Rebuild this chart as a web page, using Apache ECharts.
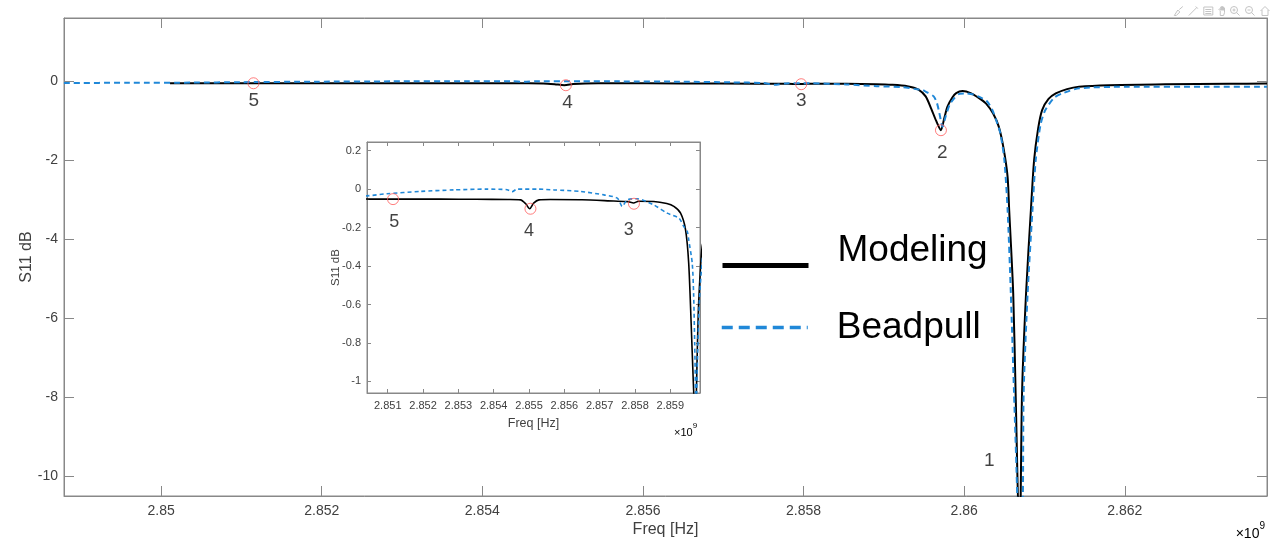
<!DOCTYPE html>
<html><head><meta charset="utf-8">
<script src="https://cdn.jsdelivr.net/npm/echarts@6/dist/echarts.min.js"></script>
<style>html,body{margin:0;padding:0;background:#fff}#c{width:1276px;height:541px}</style>
</head><body><div id="c"></div>
<script>
// ---- data (frequency in GHz, S11 in dB) ----
const freqModel = [2.85011,2.8505,2.8515,2.8525,2.8535,2.8544,2.85476,2.8549,2.85502,2.85513,2.85528,2.8556,2.8565,2.8574,2.8578,2.85796,2.8581,2.85853,2.8589,2.8591,2.85929,2.85943,2.85952,2.85959,2.85965,2.85971,2.85975,2.85979,2.85985,2.8599,2.85998,2.86008,2.86018,2.86027,2.86036,2.86043,2.86049,2.86054,2.86056,2.86061,2.86064,2.86069,2.86072,2.86077,2.86083,2.86087,2.86092,2.86097,2.86105,2.86114,2.86128,2.86143,2.8618,2.8625,2.8633,2.86377];
const s11Model = [-0.05,-0.052,-0.052,-0.052,-0.053,-0.054,-0.056,-0.075,-0.102,-0.073,-0.056,-0.054,-0.055,-0.062,-0.065,-0.072,-0.063,-0.064,-0.075,-0.09,-0.125,-0.21,-0.385,-0.7,-1.0,-1.24,-0.95,-0.65,-0.42,-0.3,-0.25,-0.3,-0.42,-0.56,-0.82,-1.15,-1.7,-2.42,-3.27,-5.37,-7.9,-12.0,-7.9,-5.37,-3.27,-2.0,-1.2,-0.73,-0.45,-0.31,-0.2,-0.14,-0.1,-0.08,-0.065,-0.06];
const freqBead = [2.84879,2.8496,2.85041,2.85098,2.85192,2.85287,2.85381,2.85438,2.85452,2.85466,2.85523,2.8557,2.85646,2.85712,2.8575,2.85764,2.85778,2.85806,2.85853,2.85891,2.85924,2.85938,2.85948,2.85952,2.85962,2.85966,2.85969,2.85973,2.85977,2.85982,2.85988,2.85994,2.86002,2.86012,2.86018,2.86028,2.86035,2.8604,2.86045,2.8605,2.86054,2.86058,2.86062,2.86066,2.86069,2.86073,2.86074,2.86079,2.86085,2.86089,2.86095,2.86101,2.86112,2.86122,2.86143,2.862,2.863,2.86377];
const s11Bead = [-0.045,-0.04,-0.035,-0.024,-0.012,-0.004,0,-0.003,-0.014,0,0,-0.004,-0.012,-0.03,-0.047,-0.09,-0.055,-0.05,-0.082,-0.125,-0.15,-0.194,-0.22,-0.263,-0.385,-0.55,-0.8,-1.15,-0.88,-0.59,-0.42,-0.32,-0.31,-0.34,-0.39,-0.5,-0.73,-1.0,-1.32,-2.0,-3.25,-5.35,-7.88,-10.5,-14,-10.5,-7.88,-5.35,-3.25,-2.0,-1.1,-0.73,-0.42,-0.31,-0.18,-0.14,-0.14,-0.14];
const markerFreq = [2.85115,2.85504,2.85797,2.85971];
const markerS11 = [-0.052,-0.102,-0.076,-1.24];
const mainLabelText = ['5','4','3','2','1'];
const mainLabelFreq = [2.851154,2.85506,2.85797,2.859728,2.860311];
const mainLabelS11 = [-0.5,-0.54,-0.5,-1.8,-9.62];
const insetLabelText = ['5','4','3'];
const insetLabelFreq = [2.851186,2.855,2.857824];
const insetLabelS11 = [-0.173,-0.22,-0.215];
const mainXTicks = [2.85,2.852,2.854,2.856,2.858,2.86,2.862];
const mainYTicks = [-10,-8,-6,-4,-2,0];
const insetXTicks = [2.851,2.852,2.853,2.854,2.855,2.856,2.857,2.858,2.859];
const insetYTicks = [-1,-0.8,-0.6,-0.4,-0.2,0,0.2];

const FONT = "'Liberation Sans', Arial, Helvetica, sans-serif";
const AX = '#888';
const TXT = '#404040';
const BLUE = '#2088d8';
const fmt = v => String(parseFloat(Number(v).toFixed(4)));
const pairs = (xs, ys) => xs.map((x, i) => [x, ys[i]]);
const labelled = (xs, ys, ts) => xs.map((x, i) => ({ value: [x, ys[i]], name: ts[i] }));

function xAx(grid, min, max, ticks, opts) {
  return Object.assign({
    type: 'value', gridIndex: grid, min: min, max: max, position: 'bottom', nameMoveOverlap: false,
    axisLine: { show: true, onZero: false, lineStyle: { color: AX, width: 1 } },
    axisTick: { show: true, inside: true, length: 10, customValues: ticks, lineStyle: { color: AX } },
    axisLabel: { show: true, customValues: ticks, formatter: fmt, color: TXT, fontFamily: FONT, fontSize: 14, margin: 8 },
    splitLine: { show: false }
  }, opts || {});
}
function yAx(grid, min, max, ticks, opts) {
  return Object.assign({
    type: 'value', gridIndex: grid, min: min, max: max, position: 'left', nameMoveOverlap: false,
    axisLine: { show: true, onZero: false, lineStyle: { color: AX, width: 1 } },
    axisTick: { show: true, inside: true, length: 10, customValues: ticks, lineStyle: { color: AX } },
    axisLabel: { show: true, customValues: ticks, formatter: fmt, color: TXT, fontFamily: FONT, fontSize: 14, margin: 6 },
    splitLine: { show: false }
  }, opts || {});
}
const XMIN = 2.848791, XMAX = 2.86377, YMIN = -10.5, YMAX = 1.6;
const IXMIN = 2.850413, IXMAX = 2.85984, IYMIN = -1.06, IYMAX = 0.245;
const noLabel = { show: false };

function iconFeature(path) { return { show: true, title: '', icon: path, onclick: function () {} }; }

const option = {
  animation: false,
  backgroundColor: '#fff',
  textStyle: { fontFamily: FONT },
  toolbox: {
    right: 4, top: 4, itemSize: 9, itemGap: 1, padding: 0, showTitle: false,
    iconStyle: { borderColor: '#c4c4c4', borderWidth: 1, color: 'none' },
    feature: {
      myBrush: iconFeature('path://M3,21L10,10L14,14L7,21Z M13,9L20,3'),
      myPen: iconFeature('path://M4,20L19,5 M17,3L21,7'),
      myData: iconFeature('path://M3,4H21V20H3Z M6,9H18 M6,13H18 M6,17H18'),
      myPan: iconFeature('path://M7,22V12L4,9L6,8L8,10V4H10V11V3H12V11V4H14V11V6H16V16L14,22Z'),
      myZoomIn: iconFeature('path://M10,3A7,7 0 1,0 10.01,3Z M15,15L21,21 M7,10H13 M10,7V13'),
      myZoomOut: iconFeature('path://M10,3A7,7 0 1,0 10.01,3Z M15,15L21,21 M7,10H13'),
      myHome: iconFeature('path://M3,12L12,3L21,12 M6,10V21H18V10')
    }
  },
  legend: [
    {
      data: ['Modeling'], left: 720, top: 232, selectedMode: false, padding: 0,
      itemWidth: 86, itemHeight: 14,
      itemStyle: { opacity: 0 },
      lineStyle: { width: 5, color: '#000' },
      formatter: n => '{t|' + n + '}',
      textStyle: { fontSize: 37, color: '#000', fontFamily: FONT,
        rich: { t: { fontSize: 37, color: '#000', fontFamily: FONT, padding: [0, 0, 30, 24] } } }
    },
    {
      data: ['Beadpull'], left: 720, top: 309, selectedMode: false, padding: 0,
      itemWidth: 86, itemHeight: 14,
      itemStyle: { opacity: 0 },
      lineStyle: { width: 3.5, type: [11, 6], color: BLUE },
      formatter: n => '{t|' + n + '}',
      textStyle: { fontSize: 37, color: '#000', fontFamily: FONT,
        rich: { t: { fontSize: 37, color: '#000', fontFamily: FONT, padding: [0, 0, 0, 24] } } }
    }
  ],
  grid: [
    { left: 64, top: 18, right: 9, bottom: 45, show: true, borderColor: AX, borderWidth: 1, backgroundColor: '#fff', containLabel: false, outerBoundsMode: 'none' },
    { left: 367, top: 142, right: 576, bottom: 148, show: true, borderColor: AX, borderWidth: 1, backgroundColor: '#fff', containLabel: false, outerBoundsMode: 'none', z: 5 }
  ],
  xAxis: [
    xAx(0, XMIN, XMAX, mainXTicks, { name: 'Freq [Hz]', nameLocation: 'middle', nameGap: 26, nameTextStyle: { color: TXT, fontSize: 16, fontFamily: FONT } }),
    xAx(0, XMIN, XMAX, mainXTicks, { position: 'top', axisLabel: noLabel }),
    xAx(1, IXMIN, IXMAX, insetXTicks, {
      z: 6,
      axisTick: { show: true, inside: true, length: 4, customValues: insetXTicks, lineStyle: { color: AX } },
      axisLabel: { show: true, customValues: insetXTicks, formatter: fmt, color: TXT, fontFamily: FONT, fontSize: 11, margin: 7 },
      name: 'Freq [Hz]', nameLocation: 'middle', nameGap: 24, nameTextStyle: { color: TXT, fontSize: 12.5, fontFamily: FONT }
    }),
    xAx(1, IXMIN, IXMAX, insetXTicks, { z: 6, position: 'top', axisLabel: noLabel,
      axisTick: { show: true, inside: true, length: 4, customValues: insetXTicks, lineStyle: { color: AX } } })
  ],
  yAxis: [
    yAx(0, YMIN, YMAX, mainYTicks, { name: 'S11 dB', nameLocation: 'middle', nameGap: 29, nameRotate: 90, nameTextStyle: { color: TXT, fontSize: 16, fontFamily: FONT } }),
    yAx(0, YMIN, YMAX, mainYTicks, { position: 'right', axisLabel: noLabel }),
    yAx(1, IYMIN, IYMAX, insetYTicks, {
      z: 6,
      axisTick: { show: true, inside: true, length: 4, customValues: insetYTicks, lineStyle: { color: AX } },
      axisLabel: { show: true, customValues: insetYTicks, formatter: fmt, color: TXT, fontFamily: FONT, fontSize: 11, margin: 6 },
      name: 'S11 dB', nameLocation: 'middle', nameGap: 25, nameRotate: 90, nameTextStyle: { color: TXT, fontSize: 11.5, fontFamily: FONT }
    }),
    yAx(1, IYMIN, IYMAX, insetYTicks, { z: 6, position: 'right', axisLabel: noLabel,
      axisTick: { show: true, inside: true, length: 4, customValues: insetYTicks, lineStyle: { color: AX } } })
  ],
  series: [
    { name: 'Modeling', type: 'line', xAxisIndex: 0, yAxisIndex: 0, data: pairs(freqModel, s11Model), symbol: 'none', smooth: 0.25,
      color: '#000', lineStyle: { color: '#000', width: 2 }, z: 2 },
    { name: 'Beadpull', type: 'line', xAxisIndex: 0, yAxisIndex: 0, data: pairs(freqBead, s11Bead), symbol: 'none', smooth: 0.25,
      color: BLUE, lineStyle: { color: BLUE, width: 2, type: [6, 4] }, z: 3 },
    { name: 'markers', type: 'scatter', xAxisIndex: 0, yAxisIndex: 0, data: pairs(markerFreq, markerS11), symbol: 'circle', symbolSize: 11,
      itemStyle: { color: 'rgba(0,0,0,0)', borderColor: '#ff5c5c', borderWidth: 1 }, z: 4 },
    { name: 'mainLabels', type: 'scatter', xAxisIndex: 0, yAxisIndex: 0, data: labelled(mainLabelFreq, mainLabelS11, mainLabelText), symbolSize: 0,
      label: { show: true, position: 'inside', formatter: p => p.name, color: '#111', textBorderWidth: 0, fontSize: 19, fontFamily: FONT }, z: 4 },

    { name: 'Modeling', type: 'line', xAxisIndex: 2, yAxisIndex: 2, data: pairs(freqModel, s11Model), symbol: 'none', smooth: 0.25,
      color: '#000', lineStyle: { color: '#000', width: 1.6 }, z: 7 },
    { name: 'Beadpull', type: 'line', xAxisIndex: 2, yAxisIndex: 2, data: pairs(freqBead, s11Bead), symbol: 'none', smooth: 0.25,
      color: BLUE, lineStyle: { color: BLUE, width: 1.6, type: [4, 3] }, z: 8 },
    { name: 'insetMarkers', type: 'scatter', xAxisIndex: 2, yAxisIndex: 2, data: pairs(markerFreq, markerS11), symbol: 'circle', symbolSize: 11,
      itemStyle: { color: 'rgba(0,0,0,0)', borderColor: '#ff5c5c', borderWidth: 1 }, z: 9 },
    { name: 'insetLabels', type: 'scatter', xAxisIndex: 2, yAxisIndex: 2, data: labelled(insetLabelFreq, insetLabelS11, insetLabelText), symbolSize: 0,
      label: { show: true, position: 'inside', formatter: p => p.name, color: '#111', textBorderWidth: 0, fontSize: 18, fontFamily: FONT }, z: 9 }
  ],
  graphic: [
    { type: 'text', right: 11, top: 521, z: 10,
      style: { text: '{a|×10}{b|9}', rich: { a: { fontSize: 14, color: TXT, fontFamily: FONT, lineHeight: 20, verticalAlign: 'bottom' }, b: { fontSize: 10, color: TXT, fontFamily: FONT, verticalAlign: 'top' } } } },
    { type: 'text', left: 674, top: 422, z: 10,
      style: { text: '{a|×10}{b|9}', rich: { a: { fontSize: 11, color: TXT, fontFamily: FONT, lineHeight: 16, verticalAlign: 'bottom' }, b: { fontSize: 8, color: TXT, fontFamily: FONT, verticalAlign: 'top' } } } }
  ]
};
const chart = echarts.init(document.getElementById('c'), null, { renderer: 'canvas' });
chart.setOption(option);
</script>
</body></html>
